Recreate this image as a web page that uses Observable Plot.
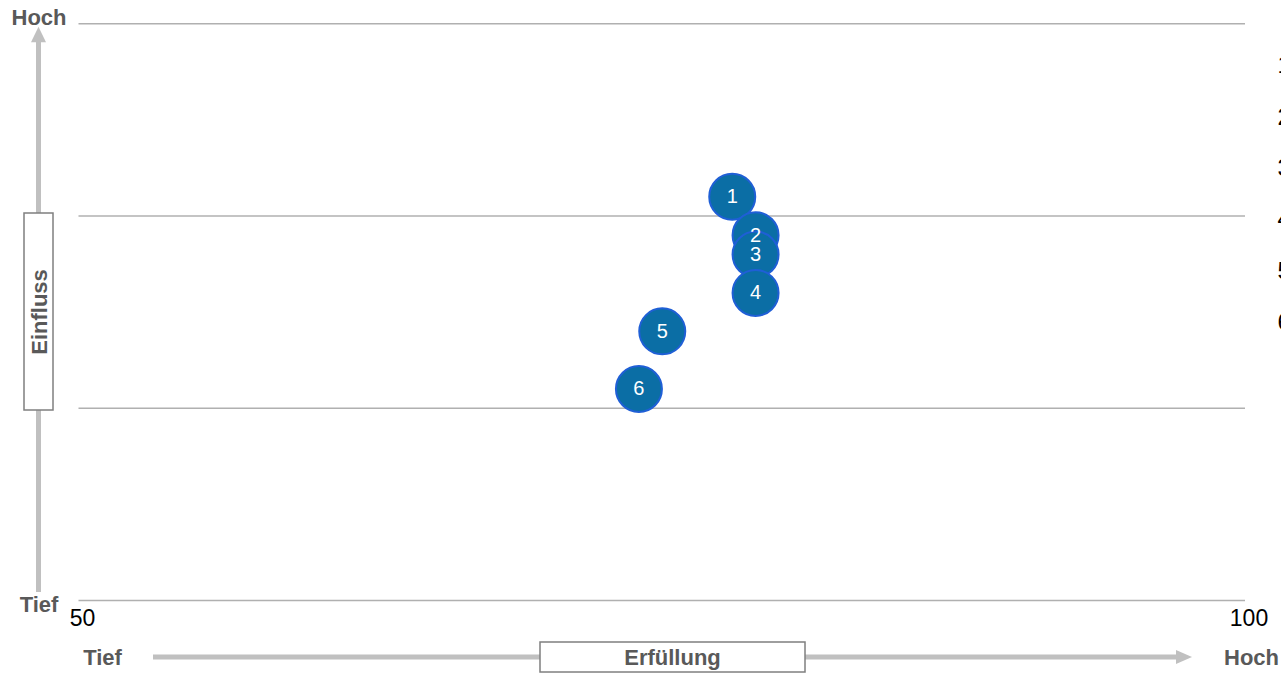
<!DOCTYPE html>
<html>
<head>
<meta charset="utf-8">
<script src="https://cdn.jsdelivr.net/npm/d3@7"></script>
<script src="https://cdn.jsdelivr.net/npm/@observablehq/plot@0.6"></script>
<style>
  html, body { margin: 0; padding: 0; background: #fff; overflow: hidden; }
  #chart { width: 1281px; height: 674px; overflow: hidden; }
</style>
</head>
<body>
<div id="chart"></div>
<script>
// ---- data ----
const ids        = ["1", "2", "3", "4", "5", "6"];
const erfuellung = [78, 79, 79, 79, 75, 74];     // x values
const einfluss   = [2.1, 1.9, 1.8, 1.6, 1.4, 1.1]; // y values
const xTicks     = [50, 100];
const yGrid      = [0, 1, 2, 3];
const legendLabels = ["1", "2", "3", "4", "5", "6"];
const xAxisLabels = {low: "Tief", high: "Hoch", title: "Erfüllung"};
const yAxisLabels = {low: "Tief", high: "Hoch", title: "Einfluss"};

const points = ids.map((id, i) => ({id, x: erfuellung[i], y: einfluss[i]}));

(function () {
const W = 1281, H = 674;
const mL = 78.5, mR = 36, mT = 23.3, mB = 74;
const FONT = "'Liberation Sans', Arial, sans-serif";
const labelGray = "#595959";
const arrowGray = "#c0c0c0";

const plot = Plot.plot({
  width: W,
  height: H,
  marginLeft: mL,
  marginRight: mR,
  marginTop: mT,
  marginBottom: mB,
  style: {fontFamily: FONT, background: "#fff"},
  x: {domain: [50, 100], axis: null},
  y: {domain: [0, 3], axis: null},
  marks: [
    Plot.ruleY(yGrid, {stroke: "#b0b0b0", strokeWidth: 1.4}),
    Plot.dot(points, {x: "x", y: "y", r: 23, fill: "#0b6ea5", stroke: "#1f5fd6", strokeWidth: 2}),
    Plot.text(points, {x: "x", y: "y", text: "id", fill: "#ffffff", fontSize: 20}),
    Plot.text(xTicks, {x: d => d, y: () => 0, text: d => String(d), dy: 18, dx: 3.5, fontSize: 23, fill: "#000"})
  ]
});

document.getElementById("chart").appendChild(plot);

// ---- decorations (frame-relative) ----
const svg = d3.select(plot);
const g = svg.append("g");
const frameTop = mT, frameBottom = H - mB;

// vertical arrow (Einfluss)
const vx = 38.5;
g.append("line").attr("x1", vx).attr("x2", vx).attr("y1", frameBottom - 8).attr("y2", frameTop + 18)
  .attr("stroke", arrowGray).attr("stroke-width", 5);
g.append("path").attr("d", `M${vx - 7.5},${frameTop + 19} L${vx},${frameTop + 3.5} L${vx + 7.5},${frameTop + 19} Z`)
  .attr("fill", arrowGray);

// horizontal arrow (Erfüllung)
const hy = 657;
g.append("line").attr("x1", 153).attr("x2", 1177).attr("y1", hy).attr("y2", hy)
  .attr("stroke", arrowGray).attr("stroke-width", 5);
g.append("path").attr("d", `M1176,${hy - 7} L1192,${hy} L1176,${hy + 7} Z`).attr("fill", arrowGray);

// Einfluss box
g.append("rect").attr("x", 24).attr("y", 213).attr("width", 29).attr("height", 197)
  .attr("fill", "#fff").attr("stroke", "#7f7f7f").attr("stroke-width", 1.5);
g.append("text").attr("transform", `translate(${vx + 1},312) rotate(-90)`)
  .attr("text-anchor", "middle").attr("dy", "0.35em")
  .attr("font-family", FONT).attr("font-weight", "bold").attr("font-size", 22).attr("fill", labelGray)
  .text(yAxisLabels.title);

// Erfüllung box
g.append("rect").attr("x", 540).attr("y", 642).attr("width", 265).attr("height", 30)
  .attr("fill", "#fff").attr("stroke", "#7f7f7f").attr("stroke-width", 1.5);
g.append("text").attr("x", 672.5).attr("y", 657).attr("text-anchor", "middle").attr("dy", "0.35em")
  .attr("font-family", FONT).attr("font-weight", "bold").attr("font-size", 22).attr("fill", labelGray)
  .text(xAxisLabels.title);

function boldLabel(x, y, t) {
  g.append("text").attr("x", x).attr("y", y).attr("text-anchor", "middle").attr("dy", "0.35em")
    .attr("font-family", FONT).attr("font-weight", "bold").attr("font-size", 22).attr("fill", labelGray)
    .text(t);
}
boldLabel(39, 17, yAxisLabels.high);
boldLabel(39, 604, yAxisLabels.low);
boldLabel(102.5, 657.5, xAxisLabels.low);
boldLabel(1251.5, 657.5, xAxisLabels.high);

// legend on the right edge (cut off by the picture border, as in the reference)
legendLabels.forEach((t, i) => {
  g.append("text").attr("x", 1277.5).attr("y", 65 + i * 51.3).attr("dy", "0.35em")
    .attr("text-anchor", "start")
    .attr("font-family", FONT).attr("font-size", 24).attr("fill", "#000").text(t);
});
})();
</script>
</body>
</html>
